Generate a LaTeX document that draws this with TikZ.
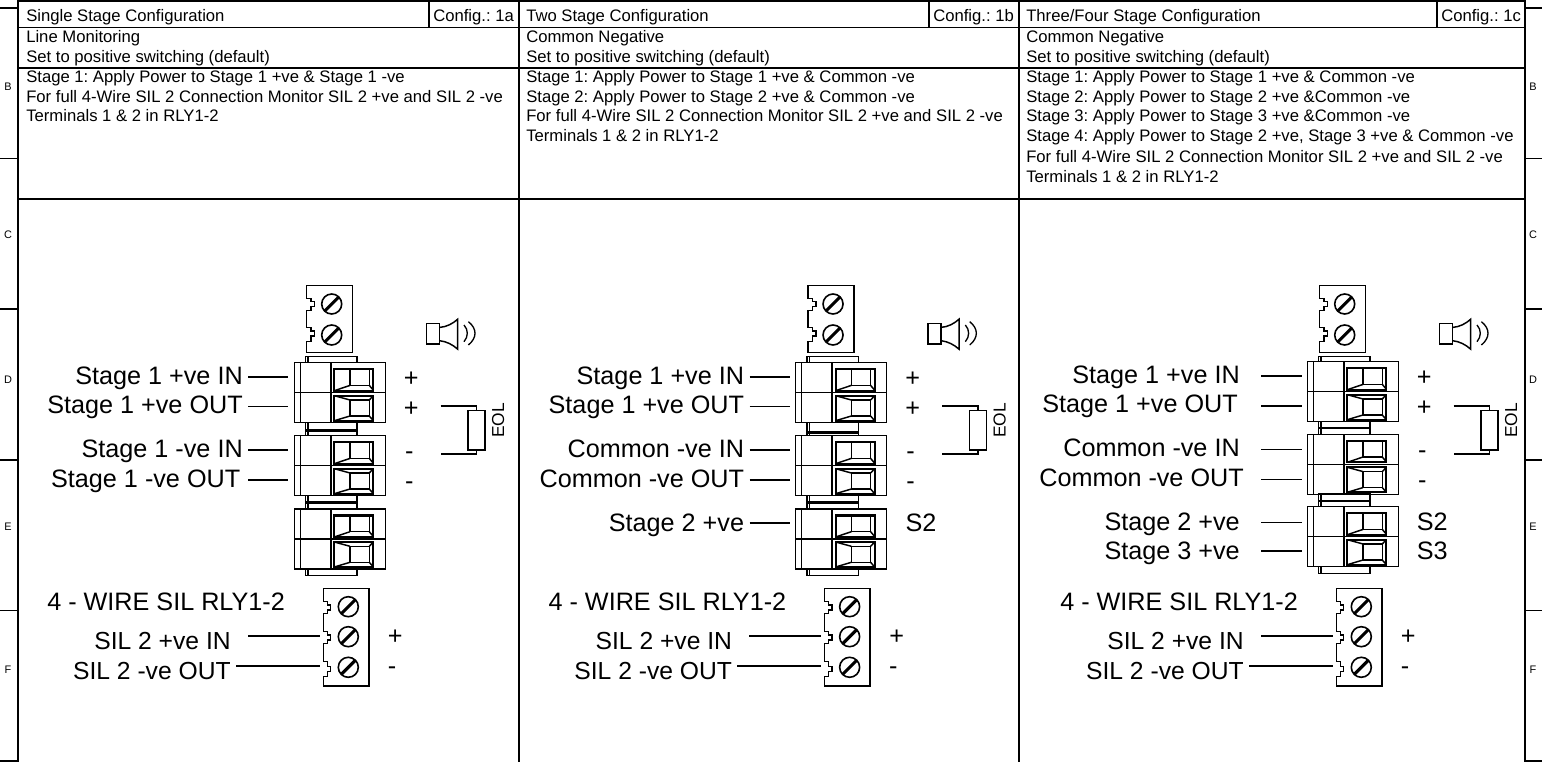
\documentclass[tikz,border=0pt]{standalone}
\usepackage{fontspec}
\setmainfont{Liberation Sans}
\frenchspacing
\newcommand{\hdrfont}{\fontsize{12.5pt}{15pt}\selectfont}
\newcommand{\bigfont}{\fontsize{18.9pt}{23pt}\selectfont}
\newcommand{\silfont}{\fontsize{18.5pt}{23pt}\selectfont}
\newcommand{\edgefont}{\fontsize{8.2pt}{10pt}\selectfont}
\tikzset{
  x=0.75pt,y=-0.75pt,
  frameline/.style={line width=1.3pt,black},
  partline/.style={line width=1.1pt,black,line join=miter},
  cellline/.style={line width=1.7pt,black,line join=miter},
  thinline/.style={line width=1pt,black},
  thickbar/.style={line width=1.8pt,black},
  hdrtext/.style={anchor=base west,inner sep=0pt,font=\hdrfont},
  lbl/.style={anchor=base east,inner sep=0pt,font=\bigfont},
  lblsil/.style={anchor=base east,inner sep=0pt,font=\silfont},
  lblw/.style={anchor=base west,inner sep=0pt,font=\bigfont},
  edgetext/.style={inner sep=0pt,font=\edgefont},
}
\newcommand{\screw}[2]{%
  \draw[line width=1.2pt] (#1,#2) circle (10);
  \draw[line width=2.3pt] (#1-7.2,#2+7.2) -- (#1+7.2,#2-7.2);}
\newcommand{\block}[2]{% left x, top y  (91 x 60)
  \begin{scope}[shift={(#1,#2)}]
  \draw[partline] (0,0) rectangle (91,60);
  \draw[partline] (0,30) -- (91,30);
  \draw[partline] (6,0) -- (6,60);
  \draw[partline] (36.5,0) -- (36.5,60);
  % upper terminal
  \draw[cellline] (40,6.5) rectangle (79,28);
  \draw[partline] (55.7,6.5) -- (55.7,22.7) -- (75,22.7) -- (75,6.5);
  \draw[partline] (40,28) -- (55.7,22.7);
  \draw[partline] (75,22.7) -- (79,27.5);
  % lower terminal
  \draw[cellline] (40,33) rectangle (79,58);
  \draw[partline] (55.7,37.3) rectangle (75,53.3);
  \draw[partline] (40,33) -- (55.7,37.3);
  \draw[partline] (75,37.3) -- (79,33);
  \draw[partline] (40,58) -- (55.7,53.3);
  \draw[partline] (75,53.3) -- (79,58);
  \end{scope}}
\newcommand{\linkbox}[2]{% top y, bottom y
  \draw[partline] (305.7,#1) rectangle (357,#2);
  \draw[partline] (308,#1) -- (308,#2);}
\newcommand{\topconn}[2]{% left x, top y
  \begin{scope}[shift={(#1,#2)}]
  \draw[partline] (0,0) -- (46,0) -- (46,67) -- (0,67)
    -- (0,56) -- (4.3,56) -- (4.3,50.5) -- (8,50.5) -- (8,45.5) -- (4.3,45.5) -- (4.3,42) -- (0,42)
    -- (0,25) -- (4.3,25) -- (4.3,21) -- (8,21) -- (8,16) -- (4.3,16) -- (4.3,12.7) -- (0,12.7) -- cycle;
  \screw{25}{18.3}
  \screw{25}{49.3}
  \end{scope}}
\newcommand{\botconn}[2]{%
  \begin{scope}[shift={(#1,#2)}]
  \draw[partline] (0,0) -- (45.5,0) -- (45.5,97.5) -- (0,97.5)
    -- (0,88.3) -- (4,88.3) -- (4,83.3) -- (7.3,83.3) -- (7.3,78.3) -- (4,78.3) -- (4,73.3) -- (0,73.3)
    -- (0,55) -- (4,55) -- (4,51.7) -- (7.3,51.7) -- (7.3,46.7) -- (4,46.7) -- (4,43.3) -- (0,43.3)
    -- (0,25) -- (4,25) -- (4,21.7) -- (7.3,21.7) -- (7.3,16.7) -- (4,16.7) -- (4,13.3) -- (0,13.3) -- cycle;
  \screw{25}{18.4}
  \screw{25}{48.4}
  \screw{25}{79}
  \end{scope}}
\newcommand{\speaker}[2]{%
  \begin{scope}[shift={(#1,#2)}]
  \draw[partline] (0,0) rectangle (13,20.5);
  \draw[partline] (13,3.7) .. controls (20,3.2) and (26,0) .. (31,-4.5) -- (31,25.5) .. controls (26,21) and (20,17.8) .. (13,17);
  \draw[thinline] (37.3,1.3) .. controls (41.7,6) and (41.7,13) .. (37.3,18);
  \draw[thinline] (41.7,-2) .. controls (50.5,5) and (50.5,14) .. (41.7,21.3);
  \end{scope}}
\newcommand{\eol}[2]{% left x, top y
  \begin{scope}[shift={(#1,#2)}]
  \draw[partline] (0,0) -- (36,0) -- (36,4.5);
  \draw[partline] (27.5,4.5) rectangle (44.5,44);
  \draw[partline] (36,44) -- (36,48) -- (0,48);
  \node[inner sep=0pt,rotate=90,font=\fontsize{13pt}{15pt}\selectfont] at (57.5,14.5) {EOL};
  \end{scope}}
\begin{document}
\begin{tikzpicture}
\useasboundingbox (0,0) rectangle (1542,762);
% frame
\draw[frameline] (18,762) -- (18,1) -- (1525,1) -- (1525,762);
\draw[frameline] (519,1) -- (519,762);
\draw[frameline] (1019,1) -- (1019,762);
\draw[frameline] (18,27.5) -- (1525,27.5);
\draw[frameline] (18,68) -- (1525,68);
\draw[frameline] (18,199) -- (1525,199);
\draw[frameline] (429,1) -- (429,27.5);
\draw[frameline] (929,1) -- (929,27.5);
\draw[frameline] (1437,1) -- (1437,27.5);
\foreach \yy in {8,158.5,309,460,610.5,761}{
  \draw[frameline] (0,\yy) -- (18,\yy);
  \draw[frameline] (1525,\yy) -- (1542,\yy);}
\foreach \ll/\yy in {B/87,C/235,D/380,E/527,F/670}{
  \node[edgetext] (l\ll) at (8,\yy) {\ll};
  \node[edgetext] (r\ll) at (1533,\yy) {\ll};}
% headers
\node[hdrtext] at (26,22) {Single Stage Configuration};
\node[hdrtext] at (433,22) {Config.: 1a};
\node[hdrtext] at (526,22) {Two Stage Configuration};
\node[hdrtext] at (933,22) {Config.: 1b};
\node[hdrtext] at (1026,22) {Three/Four Stage Configuration};
\node[hdrtext] at (1441,22) {Config.: 1c};
\node[hdrtext] at (26,43) {Line Monitoring};
\node[hdrtext] at (26,62.5) {Set to positive switching (default)};
\node[hdrtext] at (526,43) {Common Negative};
\node[hdrtext] at (526,62.5) {Set to positive switching (default)};
\node[hdrtext] at (1026,43) {Common Negative};
\node[hdrtext] at (1026,62.5) {Set to positive switching (default)};
\node[hdrtext] at (26,82.5) {Stage 1: Apply Power to Stage 1 +ve \& Stage 1 -ve};
\node[hdrtext] at (26,102.5) {For full 4-Wire SIL 2 Connection Monitor SIL 2 +ve and SIL 2 -ve};
\node[hdrtext] at (26,122) {Terminals 1 \& 2 in RLY1-2};
\node[hdrtext] at (526,82.5) {Stage 1: Apply Power to Stage 1 +ve \& Common -ve};
\node[hdrtext] at (526,102.5) {Stage 2: Apply Power to Stage 2 +ve \& Common -ve};
\node[hdrtext] at (526,122) {For full 4-Wire SIL 2 Connection Monitor SIL 2 +ve and SIL 2 -ve};
\node[hdrtext] at (526,142) {Terminals 1 \& 2 in RLY1-2};
\node[hdrtext] at (1026,82.5) {Stage 1: Apply Power to Stage 1 +ve \& Common -ve};
\node[hdrtext] at (1026,102.5) {Stage 2: Apply Power to Stage 2 +ve \&Common -ve};
\node[hdrtext] at (1026,122) {Stage 3: Apply Power to Stage 3 +ve \&Common -ve};
\node[hdrtext] at (1026,142) {Stage 4: Apply Power to Stage 2 +ve, Stage 3 +ve \& Common -ve};
\node[hdrtext] at (1026,163) {For full 4-Wire SIL 2 Connection Monitor SIL 2 +ve and SIL 2 -ve};
\node[hdrtext] at (1026,183) {Terminals 1 \& 2 in RLY1-2};
% column 1
\topconn{306.7}{285.7}
\speaker{426.7}{323.7}
\eol{440.7}{406}
\linkbox{356.7}{362.7}\linkbox{422.7}{435.7}\linkbox{495.7}{509}\linkbox{569.3}{575.7}
\block{294.3}{362.7}\block{294.3}{435.7}\block{294.3}{509}
\draw[thickbar] (305.7,430.7) -- (357,430.7);
\draw[thickbar] (305.7,502.7) -- (357,502.7);
\botconn{323.3}{588.3}
\foreach \yy in {377,406.7,450,480}{\draw[thinline] (248.3,\yy) -- (288.3,\yy);}
\draw[thinline] (248,636) -- (319.5,636);
\draw[thinline] (236,666) -- (319.5,666);
\node[lbl] at (243,385) {Stage 1 +ve IN};
\node[lbl] at (243,414) {Stage 1 +ve OUT};
\node[lbl] at (243,458) {Stage 1 -ve IN};
\node[lbl] at (240.5,488) {Stage 1 -ve OUT};
\node[lblw] at (47,610) {4 - WIRE SIL RLY1-2};
\node[lblsil] at (231,649) {SIL 2 +ve IN};
\node[lblsil] at (231,679) {SIL 2 -ve OUT};
\node[lblw] at (403.7,387) {+};
\node[lblw] at (403.7,417) {+};
\node[lblw] at (404.8,460) {-};
\node[lblw] at (404.8,490) {-};
\node[lblw] at (387.7,644) {+};
\node[lblw] at (387.5,674) {-};
% column 2
\begin{scope}[xshift=376pt]
\topconn{306.7}{285.7}
\speaker{426.7}{323.7}
\eol{440.7}{406}
\linkbox{356.7}{362.7}\linkbox{422.7}{435.7}\linkbox{495.7}{509}\linkbox{569.3}{575.7}
\block{294.3}{362.7}\block{294.3}{435.7}\block{294.3}{509}
\draw[thickbar] (305.7,432.7) -- (357,432.7);
\draw[thickbar] (305.7,502.7) -- (357,502.7);
\botconn{323.3}{588.3}
\foreach \yy in {377,406.7,450,480,523}{\draw[thinline] (248.3,\yy) -- (288.3,\yy);}
\draw[thinline] (248,636) -- (319.5,636);
\draw[thinline] (236,666) -- (319.5,666);
\node[lbl] at (243,385) {Stage 1 +ve IN};
\node[lbl] at (243,414) {Stage 1 +ve OUT};
\node[lbl] at (243,458) {Common -ve IN};
\node[lbl] at (243,488) {Common -ve OUT};
\node[lbl] at (243,532) {Stage 2 +ve};
\node[lblw] at (47,610) {4 - WIRE SIL RLY1-2};
\node[lblsil] at (231,649) {SIL 2 +ve IN};
\node[lblsil] at (231,679) {SIL 2 -ve OUT};
\node[lblw] at (403.7,387) {+};
\node[lblw] at (403.7,417) {+};
\node[lblw] at (404.8,460) {-};
\node[lblw] at (404.8,490) {-};
\node[lblw] at (404,532) {S2};
\node[lblw] at (387.7,644) {+};
\node[lblw] at (387.5,674) {-};
\end{scope}
% column 3
\begin{scope}[xshift=759.75pt]
\topconn{306.7}{285.7}
\speaker{426.7}{323.7}
\eol{440.7}{406}
\linkbox{356.7}{361.7}\linkbox{421.7}{434.3}\linkbox{494}{506.7}\linkbox{566.7}{573.3}
\block{294.3}{361.7}\block{294.3}{434.3}\block{294.3}{506.7}
\draw[thickbar] (305.7,428.3) -- (357,428.3);
\draw[thickbar] (305.7,501) -- (357,501);
\botconn{323.3}{588.3}
\foreach \yy in {376,406,449.3,479.3,522.7,551}{\draw[thinline] (248.3,\yy) -- (288.7,\yy);}
\draw[thinline] (248,636) -- (319.5,636);
\draw[thinline] (236,666) -- (319.5,666);
\node[lbl] at (227,384) {Stage 1 +ve IN};
\node[lbl] at (225,413) {Stage 1 +ve OUT};
\node[lbl] at (227,457) {Common -ve IN};
\node[lbl] at (231,487) {Common -ve OUT};
\node[lbl] at (227,531) {Stage 2 +ve};
\node[lbl] at (227,560) {Stage 3 +ve};
\node[lblw] at (47,610) {4 - WIRE SIL RLY1-2};
\node[lblsil] at (231,649) {SIL 2 +ve IN};
\node[lblsil] at (231,679) {SIL 2 -ve OUT};
\node[lblw] at (403.7,386) {+};
\node[lblw] at (403.7,416) {+};
\node[lblw] at (404.8,459) {-};
\node[lblw] at (404.8,489) {-};
\node[lblw] at (403.5,531) {S2};
\node[lblw] at (403.5,560) {S3};
\node[lblw] at (387.7,644) {+};
\node[lblw] at (387.5,674) {-};
\end{scope}
\end{tikzpicture}
\end{document}
